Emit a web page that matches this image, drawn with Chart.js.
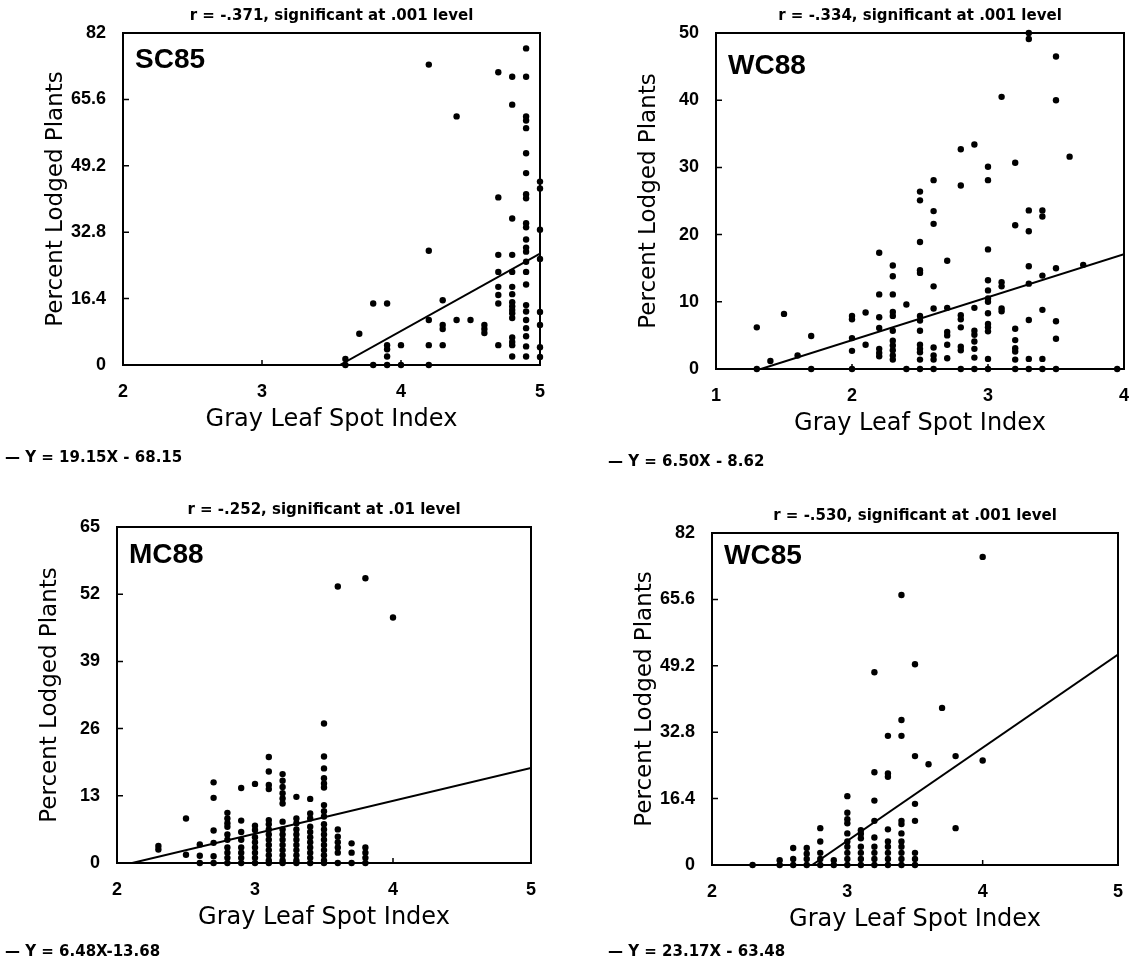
<!DOCTYPE html>
<html>
<head>
<meta charset="utf-8">
<script src="https://cdn.jsdelivr.net/npm/chart.js@4.4.1/dist/chart.umd.min.js"></script>
<style>
  html, body { margin: 0; padding: 0; background: #fff; }
  #wrap { position: relative; width: 1136px; height: 964px; overflow: hidden; }
  .panel { position: absolute; width: 568px; height: 482px; }
</style>
</head>
<body>
<div id="wrap">
  <div class="panel" style="left:0;top:0"><canvas id="sc85" width="568" height="482"></canvas></div>
  <div class="panel" style="left:568px;top:0"><canvas id="wc88" width="568" height="482"></canvas></div>
  <div class="panel" style="left:0;top:482px"><canvas id="mc88" width="568" height="482"></canvas></div>
  <div class="panel" style="left:568px;top:482px"><canvas id="wc85" width="568" height="482"></canvas></div>
</div>
<script>
// tick labels
const ticks82 = [0, 16.4, 32.8, 49.2, 65.6, 82];
const ticks50 = [0, 10, 20, 30, 40, 50];
const ticks65 = [0, 13, 26, 39, 52, 65];
const ticksX2to5 = [2, 3, 4, 5];
const ticksX1to4 = [1, 2, 3, 4];

// SC85
const sc85X = [4.9, 4.2, 4.7, 4.8, 4.9, 4.8, 4.4, 4.9, 4.9, 4.9, 4.9, 4.9, 5.0, 5.0, 4.7, 4.9, 4.9, 4.8, 4.9, 4.9,
  5.0, 4.9, 4.9, 4.9, 4.2, 4.7, 4.8, 5.0, 4.9, 4.7, 4.8, 4.9, 4.9, 4.7, 4.7, 4.7, 4.8, 4.8, 4.8, 4.8,
  4.8, 4.8, 4.8, 4.3, 3.8, 3.9, 4.9, 4.9, 5.0, 4.9, 4.9, 4.9, 4.9, 4.9, 4.2, 4.3, 4.3, 4.4, 4.5, 4.6,
  4.6, 4.6, 5.0, 5.0, 5.0, 3.7, 3.9, 3.9, 3.9, 4.0, 4.2, 4.3, 4.7, 4.8, 4.8, 4.8, 4.8, 3.6, 3.6, 3.8,
  3.9, 4.0, 4.2];
const sc85Y = [78.2, 74.2, 72.3, 71.2, 71.2, 64.3, 61.4, 61.4, 60.4, 58.5, 52.3, 47.4, 45.3, 43.6, 41.4, 42.2, 41.2, 36.2, 35.0, 34.0,
  33.4, 31.0, 29.0, 28.0, 28.2, 27.2, 27.2, 26.2, 25.5, 23.0, 23.0, 23.0, 19.9, 19.3, 17.3, 15.2, 19.3, 17.5, 15.5, 14.5,
  13.6, 12.8, 11.6, 16.0, 15.2, 15.2, 14.8, 13.2, 13.1, 11.1, 9.1, 7.1, 4.6, 2.1, 11.1, 9.9, 8.9, 11.1, 11.1, 9.9,
  8.9, 7.9, 9.9, 4.4, 2.0, 7.7, 4.9, 3.9, 2.1, 4.9, 4.9, 4.9, 4.9, 6.8, 5.7, 4.9, 2.1, 1.5, 0, 0,
  0, 0, 0];
const sc85LineX = [3.56, 5];
const sc85LineY = [0, 27.5];

// WC88
const wc88X = [1.3, 1.3, 1.4, 1.5, 1.6, 1.7, 1.7,
  2.0, 2.0, 2.0, 2.0, 2.0, 2.1, 2.1,
  2.2, 2.2, 2.2, 2.2, 2.2, 2.2, 2.2,
  2.3, 2.3, 2.3, 2.3, 2.3, 2.3, 2.3, 2.3, 2.3, 2.3, 2.3,
  2.4, 2.4,
  2.5, 2.5, 2.5, 2.5, 2.5, 2.5, 2.5, 2.5, 2.5, 2.5, 2.5, 2.5, 2.5,
  2.6, 2.6, 2.6, 2.6, 2.6, 2.6, 2.6, 2.6, 2.6,
  2.7, 2.7, 2.7, 2.7, 2.7, 2.7,
  2.8, 2.8, 2.8, 2.8, 2.8, 2.8, 2.8, 2.8,
  2.9, 2.9, 2.9, 2.9, 2.9, 2.9, 2.9, 2.9,
  3.0, 3.0, 3.0, 3.0, 3.0, 3.0, 3.0, 3.0, 3.0, 3.0, 3.0, 3.0, 3.0,
  3.1, 3.1, 3.1, 3.1, 3.1,
  3.2, 3.2, 3.2, 3.2, 3.2, 3.2, 3.2, 3.2,
  3.3, 3.3, 3.3, 3.3, 3.3, 3.3, 3.3, 3.3, 3.3,
  3.4, 3.4, 3.4, 3.4, 3.4, 3.4,
  3.5, 3.5, 3.5, 3.5, 3.5, 3.5,
  3.6, 3.7, 3.95];
const wc88Y = [6.2, 0, 1.2, 8.2, 2.0, 4.9, 0,
  7.9, 7.4, 4.6, 2.7, 0, 8.4, 3.6,
  17.3, 11.1, 7.7, 6.1, 3.0, 2.4, 1.9,
  15.4, 13.8, 11.1, 8.5, 7.9, 5.7, 4.2, 3.5, 2.8, 2.0, 1.4,
  9.6, 0,
  26.4, 25.1, 18.9, 14.7, 14.3, 7.9, 7.2, 5.7, 3.6, 3.0, 2.5, 1.4, 0,
  28.1, 23.5, 21.6, 12.3, 9.0, 3.2, 2.0, 1.4, 0,
  16.1, 9.1, 5.5, 5.0, 3.6, 1.6,
  32.7, 27.3, 8.0, 7.4, 6.2, 3.3, 2.8, 0,
  33.4, 9.1, 5.7, 5.1, 4.1, 3.0, 1.7, 0,
  30.1, 28.1, 17.8, 13.2, 11.7, 10.5, 10.0, 8.3, 6.7, 6.2, 5.6, 1.5, 0,
  40.5, 12.9, 12.3, 9.0, 8.6,
  30.7, 21.4, 6.0, 4.3, 3.1, 2.6, 1.4, 0,
  50.0, 49.1, 23.6, 20.5, 15.3, 12.7, 7.3, 1.5, 0,
  23.6, 22.7, 13.9, 8.8, 1.5, 0,
  46.5, 40.0, 15.0, 7.1, 4.5, 0,
  31.6, 15.5, 0];
const wc88LineX = [1.33, 4];
const wc88LineY = [0, 17.1];

// MC88
const mc88X = [3.6, 3.8, 4.0, 3.5, 3.5, 3.5, 3.5, 3.5, 3.5, 3.1, 3.1, 3.1, 3.1, 3.2, 3.2, 3.2, 3.2, 3.2, 3.2, 3.0,
  2.9, 2.7, 2.7, 3.3, 3.4, 2.5, 2.8, 2.8, 2.8, 2.8, 2.9, 2.7, 3.0, 3.0, 3.1, 3.2, 3.3, 3.3, 3.4, 3.4,
  3.5, 3.5, 3.5, 3.6, 3.6, 3.7, 3.8, 2.3, 2.3, 2.5, 2.6, 2.6, 2.7, 2.7,
  2.8, 2.8, 2.8, 2.8, 2.8, 2.8,
  2.9, 2.9, 2.9, 2.9, 2.9, 2.9,
  3.0, 3.0, 3.0, 3.0, 3.0, 3.0,
  3.1, 3.1, 3.1, 3.1, 3.1, 3.1, 3.1, 3.1, 3.1,
  3.2, 3.2, 3.2, 3.2, 3.2, 3.2, 3.2, 3.2,
  3.3, 3.3, 3.3, 3.3, 3.3, 3.3, 3.3, 3.3,
  3.4, 3.4, 3.4, 3.4, 3.4, 3.4, 3.4, 3.4,
  3.5, 3.5, 3.5, 3.5, 3.5, 3.5, 3.5, 3.5, 3.5,
  3.6, 3.6, 3.6, 3.6, 3.7, 3.7, 3.8, 3.8, 3.8, 2.6, 2.7];
const mc88Y = [53.5, 55.1, 47.5, 27.0, 20.6, 18.3, 16.4, 15.4, 14.6, 20.5, 17.7, 15.1, 14.3, 17.2, 15.9, 14.7, 13.5, 12.5, 11.5, 15.3,
  14.5, 15.6, 12.6, 12.8, 12.4, 8.6, 9.7, 8.6, 7.7, 7.0, 8.2, 6.3, 7.2, 6.4, 8.3, 8.0, 8.6, 7.7, 9.6, 8.6,
  11.2, 10.0, 9.0, 6.5, 5.1, 3.8, 3.0, 3.3, 2.6, 1.6, 3.6, 1.4, 3.9, 1.3,
  5.5, 4.5, 3.0, 2.0, 1.0, 0,
  6.0, 4.5, 3.0, 2.0, 1.0, 0,
  5.0, 4.0, 3.0, 2.0, 1.0, 0,
  7.5, 6.5, 5.5, 4.5, 3.5, 2.5, 1.5, 0.5, 0,
  6.5, 5.5, 4.5, 3.5, 2.5, 1.5, 0.5, 0,
  6.5, 5.5, 4.5, 3.5, 2.5, 1.5, 0.5, 0,
  7.0, 6.0, 5.0, 4.0, 3.0, 2.0, 1.0, 0,
  7.5, 6.5, 5.5, 4.5, 3.5, 2.5, 1.5, 0.5, 0,
  4.0, 3.0, 2.0, 0, 2.0, 0, 2.0, 1.0, 0, 0, 0];
const mc88LineX = [2.11, 5];
const mc88LineY = [0, 18.4];

// WC85
const wc85X = [4.0, 3.4, 3.5, 3.2, 3.7, 3.4, 3.3, 3.4, 3.5, 3.6, 3.8, 4.0, 3.2, 3.3, 3.3, 3.0, 3.2, 3.5, 3.0, 3.0,
  3.0, 3.0, 3.1, 3.1, 3.1, 3.2, 3.4, 3.4, 3.4, 3.3, 3.5, 3.8, 2.8, 2.8, 3.2, 3.4, 2.6, 2.7,
  2.3, 2.5, 2.5, 2.6, 2.6, 2.7, 2.7, 2.7, 2.8, 2.8, 2.8, 2.9, 2.9,
  3.0, 3.0, 3.0, 3.0, 3.0, 3.1, 3.1, 3.1, 3.1, 3.2, 3.2, 3.2, 3.2,
  3.3, 3.3, 3.3, 3.3, 3.3, 3.4, 3.4, 3.4, 3.4, 3.5, 3.5, 3.5];
const wc85Y = [76.1, 66.7, 49.6, 47.6, 38.8, 35.8, 31.9, 31.9, 26.9, 24.9, 26.9, 25.8, 22.9, 22.6, 21.8, 17.0, 15.9, 15.1, 12.9, 11.3,
  10.3, 7.8, 8.6, 7.7, 6.6, 10.9, 10.9, 10.1, 7.8, 8.8, 10.9, 9.1, 9.1, 5.8, 6.8, 5.8, 4.2, 4.2,
  0, 0, 1.2, 0, 1.5, 0, 1.5, 2.8, 0, 1.5, 3.0, 0, 1.2,
  0, 1.5, 3.0, 4.5, 5.8, 0, 1.5, 3.0, 4.5, 0, 1.5, 3.0, 4.5,
  0, 1.5, 3.0, 4.5, 5.8, 0, 1.5, 3.0, 4.5, 0, 1.5, 3.0];
const wc85LineX = [2.74, 5];
const wc85LineY = [0, 52.0];

const panels = [
  { id: 'sc85', name: 'SC85', title: 'r = -.371, significant at .001 level', eq: '— Y = 19.15X - 68.15',
    xs: sc85X, ys: sc85Y, lx: sc85LineX, ly: sc85LineY, xTicks: ticksX2to5, yTicks: ticks82,
    box: { L: 123, R: 540, T: 33, B: 365 }, nameDy: 27, eqX: 5, eqDy: 93 },
  { id: 'wc88', name: 'WC88', title: 'r = -.334, significant at .001 level', eq: '— Y = 6.50X - 8.62',
    xs: wc88X, ys: wc88Y, lx: wc88LineX, ly: wc88LineY, xTicks: ticksX1to4, yTicks: ticks50,
    box: { L: 148, R: 556, T: 33, B: 369 }, nameDy: 33, eqX: 40, eqDy: 93 },
  { id: 'mc88', name: 'MC88', title: 'r = -.252, significant at .01 level', eq: '— Y = 6.48X-13.68',
    xs: mc88X, ys: mc88Y, lx: mc88LineX, ly: mc88LineY, xTicks: ticksX2to5, yTicks: ticks65,
    box: { L: 117, R: 531, T: 45, B: 381 }, nameDy: 28, eqX: 5, eqDy: 89 },
  { id: 'wc85', name: 'WC85', title: 'r = -.530, significant at .001 level', eq: '— Y = 23.17X - 63.48',
    xs: wc85X, ys: wc85Y, lx: wc85LineX, ly: wc85LineY, xTicks: ticksX2to5, yTicks: ticks82,
    box: { L: 144, R: 550, T: 51, B: 383 }, nameDy: 23, eqX: 40, eqDy: 87 }
];

const W = 568, H = 482, X_AXIS_H = 75;
const tickFont = { family: '"Liberation Sans", Arial, sans-serif', size: 18, weight: 'bold' };
const xTitleFont = { family: '"DejaVu Sans", sans-serif', size: 24 };
const yTitleFont = { family: '"DejaVu Sans", sans-serif', size: 23 };

// box, inward ticks, top title, panel name and equation
const framePlugin = {
  id: 'frame',
  afterDatasetsDraw(chart, args, opts) {
    const { ctx, chartArea: a, scales } = chart;
    ctx.save();
    ctx.strokeStyle = '#000';
    ctx.lineWidth = 2;
    ctx.strokeRect(a.left, a.top, a.right - a.left, a.bottom - a.top);
    ctx.lineWidth = 1.5;
    ctx.beginPath();
    scales.x.ticks.forEach(t => {
      const px = scales.x.getPixelForValue(t.value);
      ctx.moveTo(px, a.bottom);
      ctx.lineTo(px, a.bottom - 5);
    });
    scales.y.ticks.forEach(t => {
      const py = scales.y.getPixelForValue(t.value);
      ctx.moveTo(a.left, py);
      ctx.lineTo(a.left + 6, py);
    });
    ctx.stroke();

    ctx.fillStyle = '#000';
    ctx.textBaseline = 'middle';
    ctx.textAlign = 'center';
    ctx.font = 'bold 15px "DejaVu Sans", sans-serif';
    ctx.fillText(opts.title, (a.left + a.right) / 2, a.top - 17);

    ctx.textAlign = 'left';
    ctx.font = 'bold 28px "Liberation Sans", Arial, sans-serif';
    ctx.fillText(opts.name, a.left + 12, a.top + opts.nameDy);

    ctx.font = 'bold 15px "DejaVu Sans", sans-serif';
    ctx.fillText(opts.eq, opts.eqX, a.bottom + opts.eqDy);
    ctx.restore();
  }
};

panels.forEach(p => {
  const pts = p.xs.map((x, i) => ({ x: x, y: p.ys[i] }));
  const line = p.lx.map((x, i) => ({ x: x, y: p.ly[i] }));
  new Chart(document.getElementById(p.id), {
    type: 'scatter',
    data: {
      datasets: [
        { data: pts, pointRadius: 3.2, pointBackgroundColor: '#000', pointBorderWidth: 0, clip: false },
        { data: line, showLine: true, borderColor: '#000', borderWidth: 2, pointRadius: 0 }
      ]
    },
    plugins: [framePlugin],
    options: {
      responsive: false,
      animation: false,
      events: [],
      layout: {
        autoPadding: false,
        padding: { left: 0, top: p.box.T, right: W - p.box.R, bottom: H - p.box.B - X_AXIS_H }
      },
      plugins: {
        legend: { display: false },
        tooltip: { enabled: false },
        frame: { title: p.title, name: p.name, eq: p.eq, nameDy: p.nameDy, eqX: p.eqX, eqDy: p.eqDy }
      },
      scales: {
        x: {
          type: 'linear',
          min: p.xTicks[0],
          max: p.xTicks[p.xTicks.length - 1],
          grid: { display: false },
          border: { display: false },
          afterBuildTicks: s => { s.ticks = p.xTicks.map(v => ({ value: v })); },
          afterFit: s => { s.height = X_AXIS_H; s.paddingLeft = 0; s.paddingRight = 0; },
          ticks: { color: '#000', font: tickFont, padding: 8, maxRotation: 0, callback: v => String(v) },
          title: { display: true, text: 'Gray Leaf Spot Index', color: '#000', font: xTitleFont, padding: { top: 0, bottom: 6 } }
        },
        y: {
          type: 'linear',
          min: 0,
          max: p.yTicks[p.yTicks.length - 1],
          grid: { display: false },
          border: { display: false },
          afterBuildTicks: s => { s.ticks = p.yTicks.map(v => ({ value: v })); },
          afterFit: s => { s.width = p.box.L; s.paddingTop = 0; s.paddingBottom = 0; },
          ticks: { color: '#000', font: tickFont, padding: 9, callback: v => String(v) },
          title: { display: true, text: 'Percent Lodged Plants', color: '#000', font: yTitleFont, padding: { top: p.box.L - 67 - 13.8, bottom: 0 } }
        }
      }
    }
  });
});
</script>
</body>
</html>
